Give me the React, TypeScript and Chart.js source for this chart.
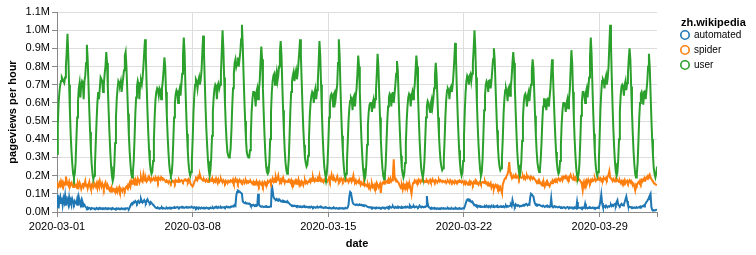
import React, { useEffect, useRef } from "react";
import { Chart, registerables } from "chart.js";

Chart.register(...registerables);

const FONT = "'Liberation Sans', Arial, sans-serif";

const categories = ["automated", "spider", "user"];
const seriesColors = ["#1f77b4", "#ff7f0e", "#2ca02c"];
const legendTitle = "zh.wikipedia";
const xTitle = "date";
const yTitle = "pageviews per hour";
const xTickLabels = ["2020-03-01", "2020-03-08", "2020-03-15", "2020-03-22", "2020-03-29"];
const xTickHours = [0, 168, 336, 504, 672];
const lastHour = 743;
const yMax = 1100000;
const yStep = 100000;

// user pageviews per hour, one row per day (hours 0..23 UTC), units of 10,000
const userDaily: number[][] = [
  [32, 48, 60, 66, 70, 72, 74, 73, 72, 71, 74, 80, 88, 98, 86, 70, 55, 42, 33, 26, 21, 19, 21, 27],
  [40, 52, 61, 68, 71, 63, 70, 72, 71, 62, 72, 75, 82, 92, 84, 70, 56, 44, 34, 26, 21, 18, 20, 26],
  [38, 50, 60, 66, 62, 68, 74, 73, 72, 66, 70, 76, 80, 88, 82, 68, 55, 43, 33, 25, 20, 17, 19, 26],
  [38, 52, 62, 68, 72, 71, 70, 72, 66, 70, 74, 78, 86, 88, 80, 67, 54, 42, 33, 26, 21, 19, 22, 28],
  [40, 54, 63, 69, 72, 70, 62, 71, 72, 70, 74, 80, 88, 95, 86, 70, 56, 44, 34, 27, 23, 21, 22, 28],
  [40, 53, 62, 66, 68, 67, 64, 68, 67, 62, 68, 72, 78, 85, 80, 66, 53, 42, 33, 26, 22, 20, 21, 27],
  [39, 52, 60, 65, 67, 66, 60, 66, 68, 64, 70, 76, 86, 96, 88, 70, 55, 43, 33, 26, 22, 20, 22, 28],
  [40, 55, 64, 70, 73, 72, 68, 72, 74, 70, 73, 78, 88, 97, 88, 72, 57, 45, 36, 28, 23, 20, 23, 30],
  [42, 55, 63, 68, 70, 69, 62, 70, 71, 68, 70, 76, 88, 100, 90, 74, 60, 48, 39, 33, 31, 30, 31, 35],
  [45, 58, 68, 76, 82, 84, 80, 82, 85, 80, 84, 88, 95, 103, 92, 76, 62, 50, 40, 33, 31, 30, 30, 34],
  [42, 55, 62, 66, 66, 64, 58, 66, 68, 62, 67, 72, 82, 91, 84, 68, 54, 42, 32, 25, 22, 21, 22, 28],
  [40, 55, 66, 72, 75, 76, 70, 74, 77, 72, 75, 80, 88, 94, 86, 70, 56, 44, 34, 27, 23, 21, 23, 29],
  [42, 56, 66, 72, 75, 77, 72, 76, 78, 73, 76, 82, 88, 95, 86, 72, 58, 46, 37, 30, 27, 25, 26, 31],
  [40, 53, 60, 64, 66, 65, 60, 66, 68, 62, 67, 72, 82, 94, 86, 70, 55, 42, 32, 25, 21, 19, 21, 27],
  [38, 52, 60, 64, 65, 64, 58, 65, 66, 62, 66, 70, 82, 95, 86, 69, 54, 42, 33, 26, 21, 19, 21, 27],
  [38, 50, 57, 61, 63, 62, 56, 63, 64, 58, 64, 68, 76, 86, 80, 66, 52, 40, 31, 24, 20, 18, 20, 26],
  [37, 48, 55, 59, 60, 60, 55, 60, 62, 57, 62, 67, 76, 87, 80, 65, 52, 40, 31, 24, 20, 18, 20, 26],
  [38, 50, 58, 63, 65, 64, 58, 65, 66, 60, 65, 70, 76, 83, 78, 64, 51, 40, 31, 24, 21, 19, 21, 27],
  [38, 50, 58, 63, 65, 64, 58, 64, 66, 62, 66, 70, 78, 86, 80, 65, 52, 40, 31, 24, 21, 19, 22, 28],
  [40, 52, 58, 61, 60, 57, 55, 60, 62, 58, 62, 68, 75, 82, 76, 64, 52, 42, 34, 28, 25, 23, 24, 29],
  [40, 53, 62, 67, 68, 67, 62, 68, 69, 66, 70, 76, 84, 93, 86, 70, 56, 44, 34, 27, 22, 20, 22, 28],
  [42, 56, 66, 72, 75, 74, 70, 75, 76, 72, 76, 82, 90, 100, 90, 74, 60, 47, 37, 29, 23, 20, 22, 29],
  [42, 56, 64, 70, 72, 71, 66, 72, 73, 68, 72, 78, 84, 90, 84, 70, 57, 45, 36, 29, 25, 23, 24, 30],
  [40, 54, 62, 67, 68, 66, 61, 68, 69, 64, 69, 74, 82, 88, 82, 68, 55, 43, 33, 26, 22, 20, 22, 28],
  [39, 52, 60, 64, 65, 63, 58, 64, 66, 61, 66, 70, 78, 84, 79, 66, 53, 42, 33, 27, 24, 22, 23, 29],
  [38, 50, 58, 62, 62, 60, 56, 62, 63, 58, 63, 68, 76, 84, 78, 65, 53, 42, 33, 27, 23, 21, 22, 28],
  [37, 49, 56, 60, 60, 59, 55, 60, 62, 57, 62, 67, 78, 89, 82, 66, 52, 40, 31, 24, 20, 19, 21, 27],
  [39, 53, 61, 66, 66, 64, 60, 66, 68, 63, 68, 74, 85, 96, 87, 70, 55, 43, 33, 26, 22, 20, 22, 28],
  [42, 57, 66, 72, 73, 72, 68, 73, 75, 70, 74, 80, 92, 103, 92, 74, 58, 45, 35, 27, 22, 20, 22, 29],
  [40, 55, 64, 69, 70, 69, 64, 70, 72, 67, 71, 76, 84, 90, 84, 69, 55, 43, 33, 26, 21, 19, 21, 27],
  [39, 52, 60, 65, 66, 64, 59, 66, 67, 62, 67, 72, 80, 87, 80, 66, 52, 40, 31, 24, 21, 19, 21, 25],
];

// spider pageviews per hour, units of 1,000
const spiderDaily: number[][] = [
  [135, 150, 142, 160, 148, 170, 155, 165, 140, 158, 150, 195, 170, 160, 148, 165, 140, 152, 160, 145, 138, 165, 150, 142],
  [148, 130, 155, 140, 162, 150, 128, 145, 160, 138, 150, 170, 142, 155, 130, 148, 165, 140, 125, 150, 158, 135, 145, 150],
  [140, 155, 132, 160, 145, 170, 150, 138, 158, 145, 130, 150, 162, 140, 128, 145, 135, 120, 128, 112, 130, 118, 125, 115],
  [125, 118, 130, 110, 122, 135, 115, 128, 120, 112, 130, 125, 118, 135, 140, 132, 150, 145, 160, 142, 170, 155, 165, 178],
  [160, 175, 150, 168, 185, 172, 160, 178, 190, 170, 165, 205, 180, 172, 185, 168, 175, 190, 178, 182, 170, 185, 175, 180],
  [182, 175, 190, 178, 185, 170, 188, 180, 176, 192, 185, 178, 182, 175, 170, 165, 172, 168, 160, 170, 165, 158, 168, 172],
  [165, 170, 160, 175, 168, 172, 165, 178, 170, 168, 175, 172, 165, 170, 178, 180, 172, 175, 168, 182, 178, 160, 150, 145],
  [140, 150, 165, 175, 190, 188, 178, 195, 185, 205, 190, 180, 178, 172, 182, 175, 168, 178, 170, 165, 175, 168, 172, 180],
  [170, 178, 165, 175, 168, 185, 172, 160, 178, 165, 172, 182, 170, 162, 175, 168, 160, 172, 165, 158, 170, 163, 168, 175],
  [172, 165, 178, 160, 170, 182, 168, 175, 160, 172, 178, 165, 170, 162, 168, 175, 158, 165, 172, 160, 168, 162, 170, 165],
  [168, 160, 155, 165, 150, 162, 158, 170, 152, 160, 148, 165, 155, 150, 162, 145, 158, 165, 150, 160, 155, 170, 162, 168],
  [175, 160, 170, 185, 168, 178, 165, 190, 172, 180, 200, 175, 168, 178, 165, 182, 170, 175, 160, 172, 168, 165, 172, 178],
  [170, 162, 175, 158, 168, 150, 165, 172, 155, 168, 160, 178, 152, 165, 158, 170, 162, 148, 165, 175, 160, 168, 158, 165],
  [170, 178, 165, 180, 172, 192, 175, 168, 182, 175, 170, 185, 178, 200, 172, 168, 180, 175, 165, 178, 170, 182, 175, 168],
  [178, 190, 172, 185, 205, 180, 175, 188, 178, 170, 182, 195, 175, 168, 180, 172, 185, 178, 170, 182, 175, 168, 172, 180],
  [175, 165, 180, 172, 190, 168, 178, 200, 170, 165, 175, 160, 168, 172, 158, 165, 150, 162, 155, 148, 160, 145, 152, 148],
  [140, 150, 135, 148, 128, 142, 155, 138, 145, 130, 150, 140, 160, 148, 135, 145, 155, 105, 150, 160, 165, 155, 170, 160],
  [165, 172, 160, 178, 170, 185, 168, 175, 205, 290, 195, 175, 168, 172, 165, 160, 150, 140, 130, 145, 125, 150, 135, 148],
  [140, 155, 130, 150, 135, 145, 125, 100, 140, 160, 162, 175, 168, 160, 172, 165, 178, 170, 162, 175, 168, 180, 172, 165],
  [170, 165, 175, 168, 160, 172, 178, 165, 170, 180, 168, 172, 165, 175, 170, 162, 172, 178, 168, 175, 170, 165, 172, 168],
  [165, 170, 160, 168, 172, 165, 160, 175, 168, 162, 170, 165, 158, 172, 165, 168, 160, 170, 165, 172, 168, 162, 170, 165],
  [160, 168, 155, 165, 158, 150, 162, 170, 155, 165, 158, 150, 165, 160, 172, 155, 165, 158, 150, 162, 168, 155, 160, 165],
  [165, 160, 170, 158, 162, 150, 158, 145, 152, 160, 135, 148, 150, 128, 145, 150, 138, 145, 130, 140, 125, 135, 120, 105],
  [150, 165, 178, 185, 190, 200, 210, 230, 275, 220, 205, 195, 188, 200, 190, 195, 205, 188, 190, 198, 185, 200, 192, 188],
  [190, 198, 185, 195, 182, 192, 200, 188, 195, 190, 180, 195, 188, 182, 190, 185, 178, 170, 165, 160, 172, 158, 165, 155],
  [150, 162, 145, 158, 140, 155, 165, 148, 160, 150, 142, 155, 165, 158, 172, 165, 175, 168, 180, 172, 178, 185, 175, 182],
  [180, 188, 175, 192, 185, 195, 200, 188, 178, 190, 182, 195, 205, 190, 185, 178, 192, 180, 188, 175, 185, 190, 180, 178],
  [170, 165, 150, 120, 160, 145, 168, 155, 172, 160, 178, 168, 160, 175, 168, 180, 172, 178, 185, 170, 175, 182, 178, 185],
  [178, 185, 172, 180, 175, 190, 182, 178, 188, 180, 195, 205, 225, 190, 185, 178, 170, 182, 175, 168, 180, 172, 178, 170],
  [165, 172, 160, 168, 155, 170, 162, 175, 158, 165, 172, 160, 168, 175, 162, 170, 158, 150, 155, 140, 120, 150, 145, 158],
  [165, 158, 172, 160, 175, 168, 180, 172, 185, 178, 190, 185, 200, 195, 205, 190, 180, 175, 168, 160, 158, 152, 150, 148],
];

// automated pageviews per hour, units of 1,000
const automatedDaily: number[][] = [
  [30, 95, 20, 70, 85, 50, 80, 40, 75, 55, 90, 35, 60, 70, 45, 80, 50, 65, 40, 70, 55, 45, 60, 50],
  [45, 70, 35, 80, 55, 40, 60, 30, 50, 35, 40, 30, 25, 20, 25, 18, 22, 20, 18, 22, 20, 18, 20, 17],
  [18, 22, 17, 20, 19, 23, 18, 20, 16, 21, 18, 19, 22, 17, 20, 18, 21, 19, 17, 20, 18, 22, 19, 17],
  [18, 16, 20, 17, 19, 15, 18, 17, 20, 16, 18, 19, 17, 20, 18, 21, 19, 17, 25, 35, 45, 50, 48, 55],
  [52, 60, 55, 48, 58, 62, 50, 55, 72, 60, 52, 58, 65, 55, 50, 62, 70, 58, 52, 48, 55, 50, 45, 40],
  [35, 30, 25, 22, 20, 24, 21, 18, 22, 20, 25, 19, 22, 20, 18, 21, 23, 19, 22, 20, 24, 21, 23, 22],
  [24, 22, 26, 23, 25, 28, 24, 22, 26, 25, 28, 24, 27, 25, 23, 26, 28, 24, 26, 25, 27, 24, 26, 28],
  [25, 22, 27, 24, 20, 26, 23, 18, 25, 22, 20, 24, 21, 19, 23, 22, 20, 24, 21, 23, 20, 22, 25, 21],
  [22, 25, 20, 24, 27, 23, 26, 22, 28, 25, 24, 27, 23, 26, 25, 28, 24, 27, 30, 26, 28, 25, 27, 30],
  [28, 32, 30, 35, 40, 35, 90, 110, 118, 115, 112, 108, 105, 100, 60, 52, 50, 48, 50, 46, 48, 45, 47, 44],
  [35, 38, 36, 40, 37, 35, 38, 33, 36, 100, 45, 35, 30, 28, 32, 30, 27, 29, 31, 28, 30, 27, 29, 28],
  [30, 32, 150, 120, 85, 75, 70, 68, 72, 65, 62, 70, 65, 60, 58, 62, 55, 60, 58, 55, 57, 52, 55, 50],
  [45, 40, 38, 35, 36, 33, 35, 32, 34, 30, 33, 31, 28, 32, 29, 30, 27, 31, 28, 30, 26, 29, 27, 28],
  [26, 28, 25, 30, 27, 24, 28, 26, 23, 27, 25, 28, 24, 26, 30, 25, 27, 24, 22, 25, 23, 26, 24, 22],
  [22, 20, 23, 21, 19, 22, 20, 24, 21, 19, 22, 20, 18, 21, 23, 20, 19, 22, 20, 21, 19, 23, 20, 22],
  [25, 40, 85, 110, 105, 80, 55, 45, 42, 40, 38, 42, 40, 37, 39, 41, 38, 40, 36, 38, 35, 37, 36, 34],
  [30, 28, 25, 27, 24, 26, 22, 25, 23, 21, 24, 22, 25, 23, 21, 24, 22, 20, 23, 25, 22, 24, 21, 23],
  [25, 22, 28, 24, 30, 26, 23, 27, 32, 25, 22, 28, 24, 26, 30, 23, 27, 25, 22, 28, 26, 24, 27, 25],
  [28, 25, 30, 26, 23, 35, 28, 24, 30, 27, 32, 25, 28, 30, 26, 24, 28, 35, 27, 25, 30, 28, 26, 29],
  [27, 32, 88, 45, 30, 25, 22, 20, 24, 19, 21, 18, 22, 20, 17, 21, 19, 18, 20, 17, 22, 19, 18, 20],
  [18, 20, 17, 19, 22, 18, 20, 16, 19, 21, 18, 17, 20, 18, 22, 19, 17, 20, 18, 21, 19, 17, 20, 19],
  [22, 30, 45, 60, 68, 70, 65, 68, 62, 55, 58, 50, 45, 40, 35, 38, 32, 35, 30, 33, 28, 32, 30, 28],
  [30, 27, 32, 28, 35, 30, 26, 33, 29, 27, 35, 30, 28, 32, 27, 30, 33, 28, 31, 26, 29, 32, 28, 30],
  [28, 32, 26, 30, 35, 28, 33, 30, 32, 35, 40, 32, 65, 45, 35, 30, 42, 36, 33, 38, 35, 30, 34, 32],
  [35, 38, 40, 36, 42, 45, 40, 38, 42, 40, 80, 100, 95, 90, 85, 60, 45, 40, 42, 36, 40, 40, 38, 35],
  [33, 30, 35, 32, 28, 31, 34, 29, 33, 30, 27, 32, 75, 31, 28, 30, 33, 27, 30, 28, 25, 27, 29, 26],
  [24, 26, 22, 25, 27, 23, 21, 25, 28, 24, 22, 26, 23, 25, 21, 24, 22, 26, 23, 20, 55, 22, 25, 23],
  [22, 25, 20, 24, 21, 23, 45, 22, 25, 20, 24, 22, 26, 23, 21, 25, 22, 24, 20, 23, 21, 25, 22, 24],
  [40, 60, 95, 50, 30, 28, 32, 26, 35, 30, 28, 32, 29, 35, 40, 32, 38, 34, 42, 45, 38, 55, 65, 40],
  [35, 32, 38, 45, 40, 36, 42, 55, 70, 85, 60, 40, 32, 28, 25, 27, 24, 26, 23, 25, 22, 24, 26, 23],
  [25, 28, 24, 30, 28, 32, 35, 30, 40, 48, 55, 62, 70, 80, 90, 100, 30, 12, 10, 11, 9, 10, 12, 11],
];

const toPoints = (rows: number[][], unit: number) =>
  rows.flat().map((v, i) => ({ x: i, y: v * unit }));

const legendPlugin = {
  id: "vegaLegend",
  afterDraw(chart: any) {
    const ctx = chart.ctx as CanvasRenderingContext2D;
    ctx.save();
    ctx.fillStyle = "#000";
    ctx.textAlign = "left";
    ctx.textBaseline = "alphabetic";
    ctx.font = `bold 11px ${FONT}`;
    ctx.fillText(legendTitle, 681, 26);
    categories.forEach((name, i) => {
      const cy = 35 + i * 15;
      ctx.beginPath();
      ctx.arc(685, cy, 4.2, 0, Math.PI * 2);
      ctx.lineWidth = 1.6;
      ctx.strokeStyle = seriesColors[i];
      ctx.stroke();
      ctx.fillStyle = "#000";
      ctx.font = `10px ${FONT}`;
      ctx.textBaseline = "middle";
      ctx.fillText(name, 694, cy);
    });
    ctx.restore();
  },
};

export default function App() {
  const canvasRef = useRef<HTMLCanvasElement | null>(null);

  useEffect(() => {
    const canvas = canvasRef.current;
    if (!canvas) return;
    const series = [
      toPoints(automatedDaily, 1000),
      toPoints(spiderDaily, 1000),
      toPoints(userDaily, 10000),
    ];
    const chart = new Chart(canvas, {
      type: "line",
      data: {
        datasets: categories.map((name, i) => ({
          label: name,
          data: series[i],
          borderColor: seriesColors[i],
          backgroundColor: seriesColors[i],
          borderWidth: 2,
          pointRadius: 0,
          tension: 0,
          fill: false,
          order: 2 - i,
        })),
      },
      options: {
        responsive: false,
        maintainAspectRatio: false,
        devicePixelRatio: 1,
        animation: false,
        layout: { padding: { left: 0, right: 99, top: 12, bottom: 0 } },
        plugins: { legend: { display: false }, tooltip: { enabled: false } },
        scales: {
          x: {
            type: "linear",
            min: 0,
            max: lastHour,
            afterBuildTicks: (scale: any) => {
              scale.ticks = [...xTickHours, lastHour].map((v) => ({ value: v }));
            },
            afterFit: (scale: any) => {
              scale.height = 43;
            },
            ticks: {
              autoSkip: false,
              maxRotation: 0,
              minRotation: 0,
              padding: 3,
              color: "#000",
              font: { family: FONT, size: 11 },
              callback: (_v: any, index: number) => xTickLabels[index] ?? "",
            },
            grid: {
              color: (ctx: any) =>
                ctx.tick && ctx.tick.value === lastHour ? "rgba(0,0,0,0)" : "#ddd",
              tickColor: "#888",
              tickLength: 5,
              lineWidth: 1,
            },
            border: { color: "#888", width: 1 },
            title: {
              display: true,
              text: xTitle,
              color: "#000",
              font: { family: FONT, size: 11, weight: "bold" },
              padding: { top: 0, bottom: 4 },
            },
          },
          y: {
            min: 0,
            max: yMax,
            afterFit: (scale: any) => {
              scale.width = 57;
            },
            ticks: {
              stepSize: yStep,
              padding: 2,
              color: "#000",
              font: { family: FONT, size: 11 },
              callback: (v: any) => (Number(v) / 1e6).toFixed(1) + "M",
            },
            grid: { color: "#ddd", tickColor: "#888", tickLength: 5, lineWidth: 1 },
            border: { color: "#888", width: 1 },
            title: {
              display: true,
              text: yTitle,
              color: "#000",
              font: { family: FONT, size: 11, weight: "bold" },
              padding: { top: 6, bottom: 0 },
            },
          },
        },
      } as any,
      plugins: [legendPlugin],
    });
    return () => chart.destroy();
  }, []);

  return (
    <div style={{ position: "fixed", left: 0, top: 0, width: 756, height: 255, background: "#fff" }}>
      <canvas ref={canvasRef} width={756} height={255} style={{ display: "block", width: 756, height: 255 }} />
    </div>
  );
}
